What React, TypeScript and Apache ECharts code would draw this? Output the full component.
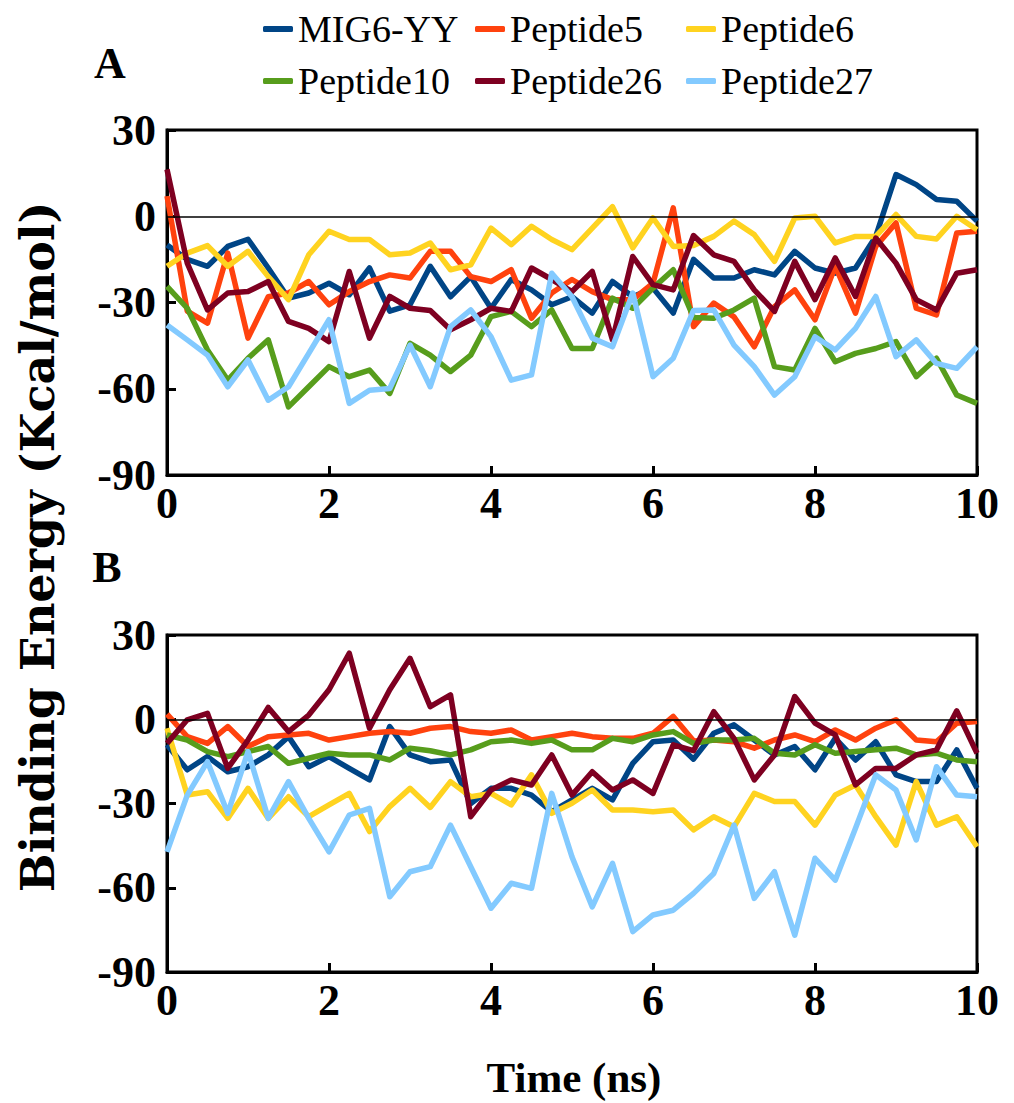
import React, { useEffect, useRef } from "react";
import * as echarts from "echarts";

const times = [0, 0.25, 0.5, 0.75, 1, 1.25, 1.5, 1.75, 2, 2.25, 2.5, 2.75, 3, 3.25, 3.5, 3.75, 4, 4.25, 4.5, 4.75, 5, 5.25, 5.5, 5.75, 6, 6.25, 6.5, 6.75, 7, 7.25, 7.5, 7.75, 8, 8.25, 8.5, 8.75, 9, 9.25, 9.5, 9.75, 10];

const seriesNames = ["MIG6-YY", "Peptide5", "Peptide6", "Peptide10", "Peptide26", "Peptide27"];
const seriesColors = ["#004586", "#ff420e", "#ffd320", "#579d1c", "#7e0021", "#83caff"];

const yTicks = { min: -90, max: 30, interval: 30 };
const xTicks = { min: 0, max: 10, interval: 2 };

// Panel A
const mig6A = [-10, -15, -17.4, -10.5, -8, -18, -28.5, -26.7, -23.3, -27.3, -18, -33, -30.8, -17.4, -28, -21, -32, -22, -25.6, -30.8, -28, -33.7, -22.7, -28, -25, -33.7, -15, -21.5, -21.5, -18.6, -20.4, -12.2, -18, -19.8, -18, -7, 14.5, 11, 5.8, 5.2, -1.7];
const pep5A = [7, -33, -37.2, -12.8, -42.4, -28, -26.7, -22.7, -30.8, -26.2, -22.7, -20.4, -21.5, -12.2, -12.2, -21, -22.7, -18.6, -35.5, -26.7, -22, -26.2, -29, -29, -23.3, 2.9, -38.4, -30.2, -35, -45.4, -31.4, -25.6, -36, -17.4, -33.7, -10.5, -2.3, -32, -34.3, -5.8, -5.2];
const pep6A = [-17.4, -12.8, -10.2, -17.4, -12.2, -21, -29, -13.4, -5.2, -8.1, -8.1, -13.4, -12.8, -9.3, -18.6, -16.9, -4.1, -9.9, -3.5, -8.1, -11.6, -4.1, 3.3, -11, -0.6, -10.5, -10.2, -7, -1.7, -6.4, -15.7, -0.6, 0, -9.3, -7, -7, 0.6, -7, -7.9, 0, -4.7];
const pep10A = [-24.4, -32, -46.5, -57, -49.4, -43, -66.3, -59.3, -52.3, -55.8, -53.5, -61.6, -44.2, -48.3, -54, -48.3, -34.9, -33.1, -38.4, -32.6, -46, -46, -28.5, -32, -25, -18.6, -35.2, -35.5, -32.6, -28.5, -52.3, -53.5, -39, -50.6, -47.7, -46, -43.6, -55.8, -49.4, -62.2, -65.1];
const pep26A = [16.3, -16.3, -32.6, -26.7, -26.2, -22.7, -36.6, -39, -43.6, -19.2, -42.4, -27.9, -32, -32.8, -39.5, -36, -32, -33.1, -18, -22, -26.2, -19.2, -43, -14, -23.8, -25.6, -6.7, -13.4, -15.7, -25.6, -33.1, -15.7, -29, -14.5, -27.9, -7.6, -16.3, -29, -32.6, -19.8, -18.6];
const pep27A = [-37.8, -43, -48.3, -59.3, -50, -64, -59.3, -47.7, -36, -65.1, -60.5, -59.9, -44.8, -59.3, -38.4, -32.6, -41.9, -57, -55.2, -19.8, -28, -42.4, -45.4, -26.7, -55.8, -49.4, -32.8, -32.6, -44.8, -52.3, -62.2, -55.8, -41.9, -46.5, -39, -27.9, -48.8, -43, -51.2, -52.9, -45.4];

// Panel B
const mig6B = [-9.1, -18, -13.3, -18.7, -16.9, -12.7, -6.2, -16.9, -13.3, -17.5, -21.6, -2.6, -12.7, -15.1, -14.5, -30, -24.6, -24.6, -27, -32.9, -28.7, -24.6, -28.7, -15.7, -8, -7.4, -14.2, -5, -2, -7.4, -12.7, -9.7, -18, -6.8, -14.5, -8, -19.8, -22.2, -22.2, -10.9, -24.6];
const pep5B = [1.8, -6.2, -8.6, -2.6, -9.7, -6.2, -5.6, -5, -7.4, -6.2, -5, -4.4, -5, -3.2, -2.6, -4.4, -5, -3.8, -7.4, -6.2, -5, -6.2, -6.8, -6.8, -5, 1, -7.7, -7.4, -8, -10.3, -7.4, -5.6, -8, -3.8, -7.4, -3.2, -0.2, -7.4, -8, -1.4, -0.8];
const pep6B = [-3.2, -27, -25.8, -35.3, -24.6, -35.3, -27.6, -34.7, -30.5, -26.4, -40, -31.1, -24.6, -31.4, -22.2, -27.6, -26.4, -30.5, -19.8, -33.5, -29.9, -25.2, -32.3, -32.3, -32.9, -32.3, -39.4, -34.7, -38.3, -26.4, -29.3, -29.3, -37.7, -27, -23.4, -34.7, -44.8, -22.2, -37.7, -34.7, -45.4];
const pep10B = [-5.6, -7.4, -11.5, -13.3, -11.5, -9.7, -15.7, -13.9, -12.1, -12.7, -12.7, -14.5, -10.3, -11.2, -12.7, -10.9, -8, -7.4, -8.6, -7.4, -10.9, -10.9, -6.8, -8, -5.6, -4.4, -8.6, -7.4, -7.4, -6.8, -12.1, -12.7, -9.1, -12.1, -11.5, -10.9, -10.3, -12.7, -12.1, -14.5, -15.1];
const pep26B = [-8.6, -0.2, 2.1, -17.5, -7.4, 4.2, -4.4, 1.5, 10.5, 23.5, -3.2, 10.5, 21.7, 4.5, 8.7, -34.7, -25.2, -21.6, -23.4, -12.7, -27, -18.7, -25.2, -21.6, -26.4, -9.1, -11.2, 2.7, -6.8, -21.6, -12.7, 8.1, -1.4, -5.6, -23.4, -17.5, -17.5, -12.7, -10.9, 3, -12.1];
const pep27B = [-47.2, -27, -15.1, -33.5, -11.5, -35.3, -22.2, -35.3, -47.2, -34.1, -31.7, -63.2, -54.3, -52.5, -37.7, -52.5, -67.3, -58.4, -60.2, -26.4, -49, -66.8, -51.3, -75.6, -69.7, -68, -62, -54.9, -37.7, -63.8, -54.3, -76.9, -49.5, -57.3, -38.8, -19.8, -25.2, -43, -16.9, -27, -27.6];

const panelA = [mig6A, pep5A, pep6A, pep10A, pep26A, pep27A];
const panelB = [mig6B, pep5B, pep6B, pep10B, pep26B, pep27B];

const SERIF = "Liberation Serif";
const WIDE_SERIF = "DejaVu Serif";

export default function App() {
  const ref = useRef<HTMLDivElement>(null);

  useEffect(() => {
    if (!ref.current) return;
    const chart = echarts.init(ref.current, undefined, { renderer: "svg" });

    const grids = [
      { left: 167, top: 130, width: 810, height: 345 },
      { left: 167, top: 635, width: 810, height: 337 },
    ].map((g) => ({
      ...g,
      show: true,
      borderColor: "#000",
      borderWidth: 3,
      backgroundColor: "transparent",
      containLabel: false,
    }));

    const labelStyle = {
      color: "#000",
      fontFamily: SERIF,
      fontWeight: "bold",
      fontSize: 44,
    };

    const makeX = (gi: number) => ({
      type: "value",
      gridIndex: gi,
      min: xTicks.min,
      max: xTicks.max,
      interval: xTicks.interval,
      axisLine: { show: true, onZero: false, lineStyle: { color: "#000", width: 3 } },
      axisTick: { show: true, inside: true, length: 9, lineStyle: { color: "#000", width: 3 } },
      splitLine: { show: false },
      axisLabel: { ...labelStyle, margin: 6 },
    });
    const makeY = (gi: number) => ({
      type: "value",
      gridIndex: gi,
      min: yTicks.min,
      max: yTicks.max,
      interval: yTicks.interval,
      axisLine: { show: true, onZero: false, lineStyle: { color: "#000", width: 3 } },
      axisTick: { show: true, inside: true, length: 9, lineStyle: { color: "#000", width: 3 } },
      splitLine: { show: false },
      axisLabel: { ...labelStyle, margin: 11 },
    });

    const series: any[] = [];
    [panelA, panelB].forEach((panel, gi) => {
      series.push({
        type: "line",
        name: "zero" + gi,
        xAxisIndex: gi,
        yAxisIndex: gi,
        data: [],
        z: 1,
        silent: true,
        markLine: {
          silent: true,
          symbol: "none",
          label: { show: false },
          lineStyle: { color: "#000", width: 1.5, type: "solid" },
          data: [{ yAxis: 0 }],
        },
      });
      panel.forEach((vals, si) => {
        series.push({
          type: "line",
          name: seriesNames[si],
          xAxisIndex: gi,
          yAxisIndex: gi,
          data: times.map((t, i) => [t, vals[i]]),
          showSymbol: false,
          symbol: "none",
          z: 2,
          color: seriesColors[si],
          itemStyle: { color: seriesColors[si] },
          lineStyle: { color: seriesColors[si], width: 5.5, join: "round" },
        });
      });
    });

    const legendCols = [263, 475, 686];
    const legendRows = [9, 61];
    const legends = seriesNames.map((name, i) => ({
      show: true,
      data: [{ name, icon: "roundRect", textStyle: { fontFamily: SERIF, fontSize: 38 } }],
      left: legendCols[i % 3],
      top: legendRows[Math.floor(i / 3)],
      padding: 0,
      itemWidth: 30,
      itemHeight: 6,
      selectedMode: false,
      textStyle: {
        color: "#000",
        fontFamily: SERIF,
        fontSize: 38,
        lineHeight: 40,
      },
    }));

    const textStyle = (text: string, size: number, family: string) => ({
      text,
      fill: "#000",
      fontSize: size,
      fontWeight: "bold",
      fontFamily: family,
      align: "center",
      verticalAlign: "middle",
      textAlign: "center",
      textVerticalAlign: "middle",
    });

    chart.setOption({
      animation: false,
      backgroundColor: "#fff",
      textStyle: { fontFamily: SERIF, color: "#000" },
      grid: grids,
      xAxis: [makeX(0), makeX(1)],
      yAxis: [makeY(0), makeY(1)],
      legend: legends,
      series,
      graphic: [
        { type: "text", x: 110, y: 63, style: textStyle("A", 44, SERIF) },
        { type: "text", x: 107, y: 567, style: textStyle("B", 44, SERIF) },
        {
          type: "text",
          x: 38,
          y: 547,
          rotation: Math.PI / 2,
          style: textStyle("Binding Energy (Kcal/mol)", 46, WIDE_SERIF),
        },
        { type: "text", x: 574, y: 1077, style: textStyle("Time (ns)", 43, SERIF) },
      ],
    });

    return () => chart.dispose();
  }, []);

  return (
    <div
      ref={ref}
      style={{ position: "absolute", left: 0, top: 0, width: 1014, height: 1103, background: "#fff" }}
    />
  );
}
